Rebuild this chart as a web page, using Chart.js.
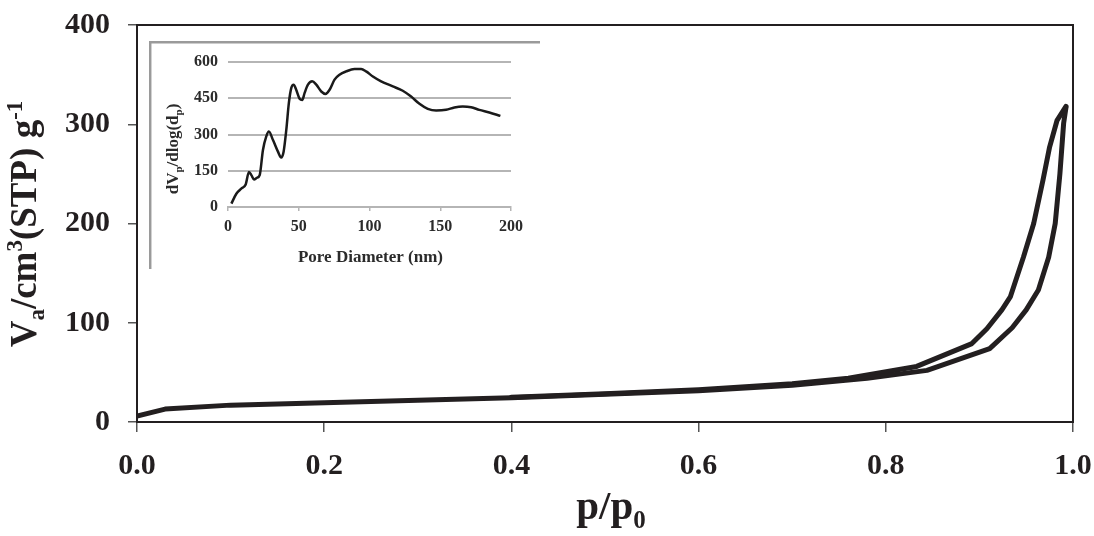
<!DOCTYPE html>
<html>
<head>
<meta charset="utf-8">
<script src="https://cdn.jsdelivr.net/npm/chart.js@4.4.1/dist/chart.umd.min.js"></script>
<style>
  html, body { margin: 0; padding: 0; background: #fff; }
  #wrap { position: relative; width: 1094px; height: 536px; }
  #main { position: absolute; left: 0; top: 0; }
  #inset { position: absolute; left: 149px; top: 41px; }
</style>
</head>
<body>
<div id="wrap">
  <canvas id="main" width="1094" height="536"></canvas>
  <canvas id="inset" width="391" height="228"></canvas>
</div>
<script>
// ---- Main isotherm data (p/p0, Va) ----
const adsP = [0.000, 0.030, 0.100, 0.200, 0.300, 0.400, 0.500, 0.600, 0.700, 0.780, 0.844, 0.911, 0.935, 0.950, 0.963, 0.974, 0.981, 0.986, 0.990, 0.9925];
const adsV = [6, 13, 17, 19.5, 22, 24.5, 28, 31.5, 37, 44, 52, 74, 95, 113, 133, 166, 200, 250, 301, 317];
const desP = [0.400, 0.500, 0.600, 0.700, 0.760, 0.833, 0.892, 0.908, 0.924, 0.933, 0.947, 0.958, 0.968, 0.975, 0.983, 0.9925];
const desV = [25, 28.5, 32.5, 38.5, 44, 56, 79, 94, 113, 126, 166, 200, 244, 277, 304, 318];
const xTicks = [0.0, 0.2, 0.4, 0.6, 0.8, 1.0];
const yTicks = [0, 100, 200, 300, 400];

// ---- Inset pore size distribution (nm, dVp/dlog(dp)) ----
const poreD = [2.4, 5.9, 9.4, 12.5, 14.8, 16.5, 18.4, 20.5, 22.4, 24.7, 27, 28.9, 31.8, 35.3, 37.6, 39.3, 41.2, 43, 44.7, 46.4, 48.2, 50.6, 52.5, 54.1, 56.5, 59.5, 62.4, 65.9, 68.9, 71.8, 75.3, 78.8, 83.5, 89.4, 94.1, 97.6, 102.4, 108.2, 116.5, 123.5, 129.4, 135.3, 141.2, 147.1, 154.1, 160, 165.9, 171.8, 177.6, 184.7, 192.5];
const poreV = [14, 55, 76, 93, 145, 132, 114, 121, 132, 236, 291, 312, 277, 229, 205, 229, 319, 430, 492, 506, 485, 448, 443, 471, 506, 520, 506, 478, 468, 485, 527, 547, 561, 571, 571, 561, 540, 520, 499, 481, 457, 427, 406, 399, 402, 412, 416, 413, 402, 391, 377];
const insetXTicks = [0, 50, 100, 150, 200];
const insetYTicks = [0, 150, 300, 450, 600];

const SERIF = '"Liberation Serif", "Times New Roman", serif';

function toXY(xs, ys) { return xs.map((x, i) => ({ x: x, y: ys[i] })); }

// draws a sequence of text pieces (normal / sub / sup), centred along the baseline
function drawRich(ctx, parts, size, cx, baseY, rotate, color) {
  ctx.save();
  ctx.fillStyle = color;
  ctx.textBaseline = 'alphabetic';
  ctx.textAlign = 'left';
  const pieceFont = p => 'bold ' + (p.s === 'n' ? size : Math.round(size * 0.62)) + 'px ' + SERIF;
  let total = 0;
  parts.forEach(p => { ctx.font = pieceFont(p); p.w = ctx.measureText(p.t).width; total += p.w; });
  ctx.translate(cx, baseY);
  if (rotate) ctx.rotate(-Math.PI / 2);
  let x = -total / 2;
  parts.forEach(p => {
    ctx.font = pieceFont(p);
    let dy = 0;
    if (p.s === 'sub') dy = size * 0.22;
    if (p.s === 'sup') dy = -size * 0.38;
    ctx.fillText(p.t, x, dy);
    x += p.w;
  });
  ctx.restore();
}

const mainDecor = {
  id: 'mainDecor',
  afterDraw(chart) {
    const ctx = chart.ctx, a = chart.chartArea;
    ctx.save();
    ctx.strokeStyle = '#231f20';
    ctx.lineWidth = 2;
    ctx.strokeRect(a.left, a.top, a.right - a.left, a.bottom - a.top);
    ctx.restore();
    drawRich(ctx, [{t: 'V', s: 'n'}, {t: 'a', s: 'sub'}, {t: '/cm', s: 'n'}, {t: '3', s: 'sup'}, {t: '(STP) g', s: 'n'}, {t: '-1', s: 'sup'}],
      37, 36, 224, true, '#231f20');
    drawRich(ctx, [{t: 'p/p', s: 'n'}, {t: '0', s: 'sub'}], 41, 611, 519, false, '#231f20');
  }
};

new Chart(document.getElementById('main'), {
  type: 'scatter',
  data: {
    datasets: [
      { label: 'adsorption', data: toXY(adsP, adsV), showLine: true, borderColor: '#231f20', borderWidth: 5, pointRadius: 0, tension: 0, borderJoinStyle: 'round', borderCapStyle: 'round' },
      { label: 'desorption', data: toXY(desP, desV), showLine: true, borderColor: '#231f20', borderWidth: 5, pointRadius: 0, tension: 0, borderJoinStyle: 'round', borderCapStyle: 'round' }
    ]
  },
  options: {
    responsive: false,
    animation: false,
    layout: { padding: { left: 0, top: 25, right: 21, bottom: 0 } },
    plugins: { legend: { display: false }, tooltip: { enabled: false } },
    scales: {
      x: {
        type: 'linear', min: 0, max: 1,
        afterFit(s) { s.height = 114; s.paddingLeft = 0; s.paddingRight = 0; },
        afterBuildTicks(s) { s.ticks = xTicks.map(v => ({ value: v })); },
        grid: { drawOnChartArea: false, drawTicks: true, tickLength: 10, color: '#555', lineWidth: 1.5 },
        border: { display: true, color: '#231f20', width: 2 },
        ticks: { color: '#231f20', padding: 16, maxRotation: 0, font: { family: SERIF, size: 30, weight: 'bold' }, callback: v => Number(v).toFixed(1) }
      },
      y: {
        type: 'linear', min: 0, max: 400,
        afterFit(s) { s.width = 137; s.paddingTop = 0; s.paddingBottom = 0; },
        afterBuildTicks(s) { s.ticks = yTicks.map(v => ({ value: v })); },
        grid: { drawOnChartArea: false, drawTicks: true, tickLength: 9, color: '#555', lineWidth: 1.5 },
        border: { display: true, color: '#231f20', width: 2 },
        ticks: { color: '#231f20', padding: 18, font: { family: SERIF, size: 30, weight: 'bold' }, callback: v => String(v) }
      }
    }
  },
  plugins: [mainDecor]
});

const insetDecor = {
  id: 'insetDecor',
  beforeDraw(chart) {
    const ctx = chart.ctx;
    ctx.save();
    ctx.fillStyle = '#fff';
    ctx.fillRect(0, 0, chart.width, chart.height);
    ctx.strokeStyle = '#9a9a9a';
    ctx.lineWidth = 2.5;
    ctx.beginPath();
    ctx.moveTo(1.2, chart.height);
    ctx.lineTo(1.2, 1.2);
    ctx.lineTo(chart.width, 1.2);
    ctx.stroke();
    ctx.restore();
  },
  afterDraw(chart) {
    const ctx = chart.ctx, a = chart.chartArea;
    drawRich(ctx, [{t: 'dV', s: 'n'}, {t: 'p', s: 'sub'}, {t: '/dlog(d', s: 'n'}, {t: 'p', s: 'sub'}, {t: ')', s: 'n'}],
      17, 29, 108, true, '#2b2b2b');
    drawRich(ctx, [{t: 'Pore Diameter (nm)', s: 'n'}], 17, (a.left + a.right) / 2 + 1, 221, false, '#2b2b2b');
  }
};

new Chart(document.getElementById('inset'), {
  type: 'scatter',
  data: {
    datasets: [
      { label: 'PSD', data: toXY(poreD, poreV), showLine: true, borderColor: '#1a1a1a', borderWidth: 2.5, pointRadius: 0, cubicInterpolationMode: 'monotone' }
    ]
  },
  options: {
    responsive: false,
    animation: false,
    layout: { padding: { left: 0, top: 21, right: 29, bottom: 0 } },
    plugins: { legend: { display: false }, tooltip: { enabled: false } },
    scales: {
      x: {
        type: 'linear', min: 0, max: 200,
        afterFit(s) { s.height = 62; s.paddingLeft = 0; s.paddingRight = 0; },
        afterBuildTicks(s) { s.ticks = insetXTicks.map(v => ({ value: v })); },
        grid: { drawOnChartArea: false, drawTicks: true, tickLength: 4, color: '#b5b5b5', lineWidth: 1.5 },
        border: { display: true, color: '#b5b5b5', width: 2 },
        ticks: { color: '#2b2b2b', padding: 6, maxRotation: 0, font: { family: SERIF, size: 16, weight: 'bold' } }
      },
      y: {
        type: 'linear', min: 0, max: 600,
        afterFit(s) { s.width = 79; s.paddingTop = 0; s.paddingBottom = 0; },
        afterBuildTicks(s) { s.ticks = insetYTicks.map(v => ({ value: v })); },
        grid: { drawOnChartArea: true, drawTicks: false, color: '#b5b5b5', lineWidth: 2 },
        border: { display: false },
        ticks: { color: '#2b2b2b', padding: 10, font: { family: SERIF, size: 16, weight: 'bold' } }
      }
    }
  },
  plugins: [insetDecor]
});
</script>
</body>
</html>
